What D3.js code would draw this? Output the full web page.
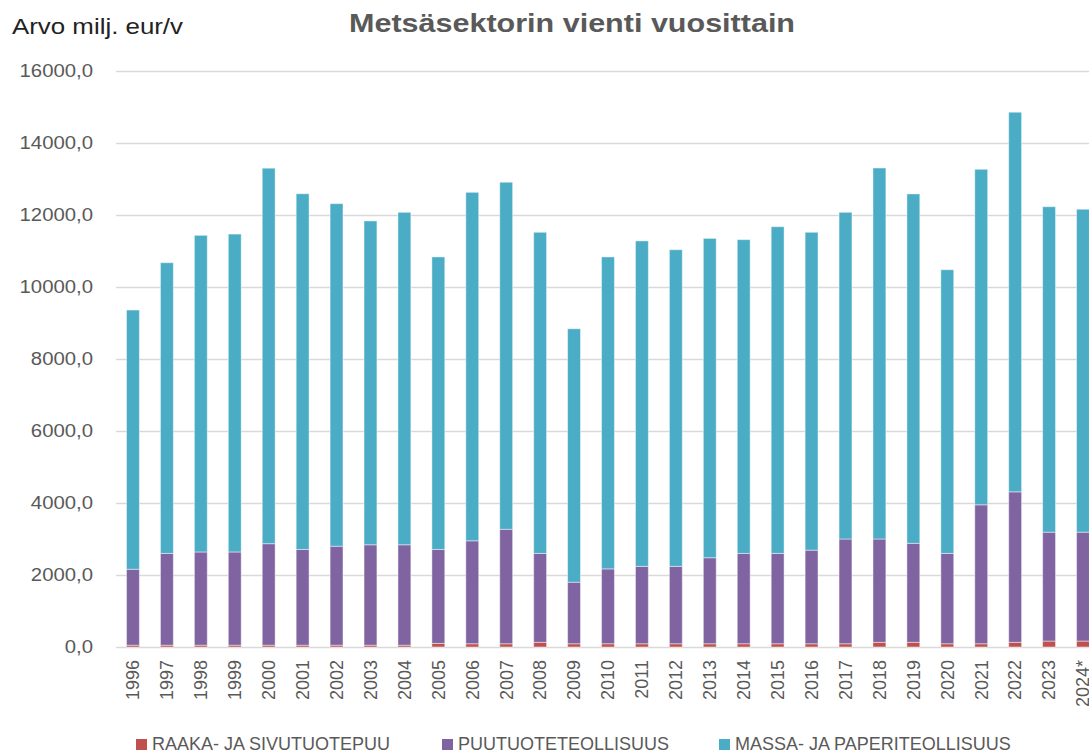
<!DOCTYPE html>
<html>
<head>
<meta charset="utf-8">
<script src="https://cdn.jsdelivr.net/npm/d3@7"></script>
<style>
  html, body { margin: 0; padding: 0; background: #fff; overflow: hidden; }
  text { font-family: "Liberation Sans", Arial, sans-serif; }
</style>
</head>
<body>
<div id="chart"></div>
<script>
// values, milj. eur
const years = ["1996", "1997", "1998", "1999", "2000", "2001", "2002", "2003", "2004", "2005",
  "2006", "2007", "2008", "2009", "2010", "2011", "2012", "2013", "2014", "2015",
  "2016", "2017", "2018", "2019", "2020", "2021", "2022", "2023", "2024*"];
const raakaPuu = [50, 50, 50, 50, 50, 50, 50, 50, 50, 100,
  90, 90, 130, 90, 90, 90, 90, 90, 90, 90,
  90, 90, 130, 130, 90, 90, 130, 165, 165];
const puutuote = [2110, 2550, 2590, 2590, 2820, 2660, 2750, 2790, 2790, 2610,
  2860, 3180, 2470, 1710, 2080, 2150, 2150, 2390, 2510, 2510,
  2600, 2910, 2870, 2750, 2510, 3860, 4180, 3025, 3025];
const massaPaperi = [7200, 8075, 8795, 8830, 10430, 9880, 9515, 8995, 9235, 8125,
  9680, 9640, 8920, 7040, 8665, 9040, 8795, 8870, 8715, 9075,
  8830, 9075, 10305, 9705, 7880, 9320, 10545, 9040, 8970];
const seriesNames = ["RAAKA- JA SIVUTUOTEPUU", "PUUTUOTETEOLLISUUS", "MASSA- JA PAPERITEOLLISUUS"];
const yTicks = [0, 2000, 4000, 6000, 8000, 10000, 12000, 14000, 16000];

const W = 1089, H = 754;
const colors = ["#C0504D", "#8064A2", "#4BACC6"];
const textGray = "#595959";

const svg = d3.select("#chart").append("svg")
  .attr("width", W)
  .attr("height", H);

const rows = years.map((y, i) => ({year: y, a: raakaPuu[i], b: puutuote[i], c: massaPaperi[i]}));
const stacked = d3.stack().keys(["a", "b", "c"])(rows);

const x = d3.scaleBand()
  .domain(years)
  .range([116, 116 + 29 * 33.93])
  .paddingInner(0.62)
  .paddingOuter(0.31);

const y = d3.scaleLinear()
  .domain([0, 16000])
  .range([647, 71]);

// gridlines
svg.append("g")
  .selectAll("line")
  .data(yTicks)
  .enter()
  .append("line")
  .attr("x1", 116)
  .attr("x2", W)
  .attr("y1", d => Math.round(y(d)) + 0.5)
  .attr("y2", d => Math.round(y(d)) + 0.5)
  .attr("stroke", "#d9d9d9")
  .attr("stroke-width", 1.5);

// y tick labels (the reference font is a bit wider, so stretch a little)
svg.append("g")
  .selectAll("text")
  .data(yTicks)
  .enter()
  .append("text")
  .attr("transform", d => `translate(93,${y(d)}) scale(1.13,1)`)
  .attr("dy", "0.35em")
  .attr("text-anchor", "end")
  .attr("fill", textGray)
  .style("font-size", "18px")
  .text(d => d3.format("d")(d) + ",0");

// stacked bars
svg.append("g")
  .selectAll("g")
  .data(stacked)
  .enter()
  .append("g")
  .attr("fill", (d, i) => colors[i])
  .selectAll("rect")
  .data(d => d)
  .enter()
  .append("rect")
  .attr("x", d => x(d.data.year))
  .attr("width", x.bandwidth())
  .attr("y", d => y(d[1]))
  .attr("height", d => y(d[0]) - y(d[1]))
  .attr("stroke", "rgba(255,255,255,0.45)")
  .attr("stroke-width", 1);

// x labels
svg.append("g")
  .selectAll("text")
  .data(years)
  .enter()
  .append("text")
  .attr("transform", d => `translate(${x(d) + x.bandwidth() / 2},660) rotate(-90)`)
  .attr("dy", "0.35em")
  .attr("text-anchor", "end")
  .attr("fill", textGray)
  .style("font-size", "18px")
  .text(d => d);

// titles
svg.append("text")
  .attr("x", 12)
  .attr("y", 34)
  .attr("fill", "#222")
  .style("font-size", "22px")
  .attr("textLength", 171)
  .attr("lengthAdjust", "spacingAndGlyphs")
  .text("Arvo milj. eur/v");

svg.append("text")
  .attr("x", 349)
  .attr("y", 32)
  .attr("fill", textGray)
  .style("font-size", "26px")
  .style("font-weight", "bold")
  .attr("textLength", 446)
  .attr("lengthAdjust", "spacingAndGlyphs")
  .text("Metsäsektorin vienti vuosittain");

// legend
const legendX = [136, 442, 719];
const legend = svg.append("g")
  .selectAll("g")
  .data(seriesNames)
  .enter()
  .append("g")
  .attr("transform", (d, i) => `translate(${legendX[i]},0)`);

legend.append("rect")
  .attr("x", 0)
  .attr("y", 739)
  .attr("width", 11)
  .attr("height", 11)
  .attr("fill", (d, i) => colors[i]);

legend.append("text")
  .attr("x", 16)
  .attr("y", 750)
  .attr("fill", textGray)
  .style("font-size", "18px")
  .text(d => d);
</script>
</body>
</html>
